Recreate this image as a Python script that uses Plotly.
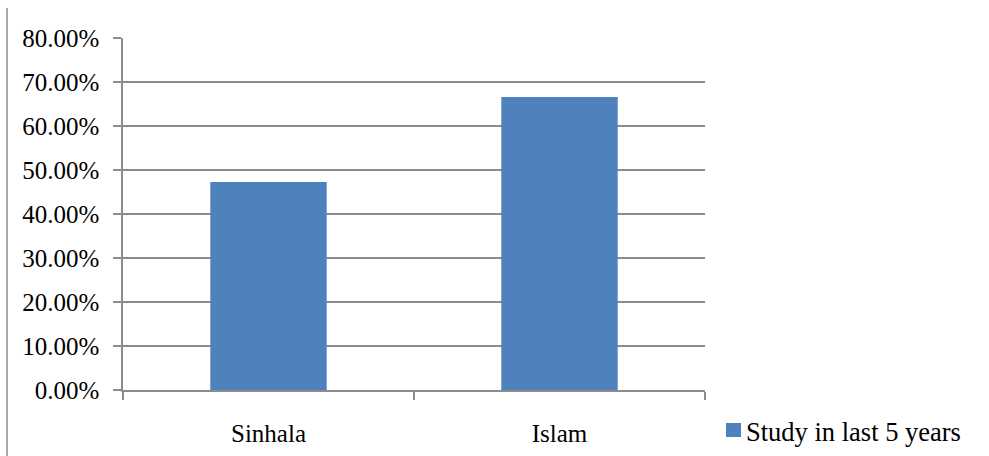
import plotly.graph_objects as go

categories = ["Sinhala", "Islam"]
values = [0.473, 0.666]
series_name = "Study in last 5 years"
y_ticks = [0, 0.1, 0.2, 0.3, 0.4, 0.5, 0.6, 0.7, 0.8]

GRID = "#8c8c8c"
BAR = "#4F81BD"
FONT = "Liberation Serif, Times New Roman, serif"
FS = 25

# plot area geometry (pixels)
L, R, T, B = 123, 705, 38, 390
W, H = R - L, B - T


def px(x):
    return (x - L) / W


def py(y):
    return (B - y) / H


fig = go.Figure()
fig.add_trace(go.Bar(
    x=categories, y=values, name=series_name,
    marker=dict(color=BAR, line=dict(width=0)),
    width=0.4, showlegend=False,
))

fig.update_layout(
    width=989, height=456,
    margin=dict(l=L, r=989 - R, t=T, b=456 - B, autoexpand=False),
    paper_bgcolor="white", plot_bgcolor="white",
    font=dict(family=FONT, size=FS, color="black"),
    showlegend=False,
    xaxis=dict(
        type="category", showgrid=False, showline=True, linecolor=GRID, linewidth=1.5,
        ticks="outside", tickson="boundaries", ticklen=8, tickcolor=GRID, tickwidth=1.5,
        range=[-0.5, 1.5], ticklabelstandoff=20, automargin=False,
        tickfont=dict(family=FONT, size=FS, color="black"),
    ),
    yaxis=dict(
        range=[0, 0.8], tickvals=y_ticks, tickformat=".2%",
        showgrid=True, gridcolor=GRID, gridwidth=1.5,
        showline=True, linecolor=GRID, linewidth=1.5,
        ticks="outside", ticklen=8, tickcolor=GRID, tickwidth=1.5,
        zeroline=False, ticklabelstandoff=9, automargin=False,
        tickfont=dict(family=FONT, size=FS, color="black"),
    ),
    shapes=[
        dict(type="line", xref="paper", yref="paper",
             x0=px(7), x1=px(7), y0=py(460), y1=py(8),
             line=dict(color=GRID, width=1.5)),
        # legend swatch
        dict(type="rect", xref="paper", yref="paper",
             x0=px(726), x1=px(741), y0=py(437), y1=py(423),
             fillcolor=BAR, line=dict(width=0)),
    ],
    annotations=[
        dict(text=series_name, xref="paper", yref="paper",
             x=px(744), y=py(432), xanchor="left", yanchor="middle",
             showarrow=False, font=dict(family=FONT, size=26.5, color="black")),
    ],
)

fig.write_html("out.html")
